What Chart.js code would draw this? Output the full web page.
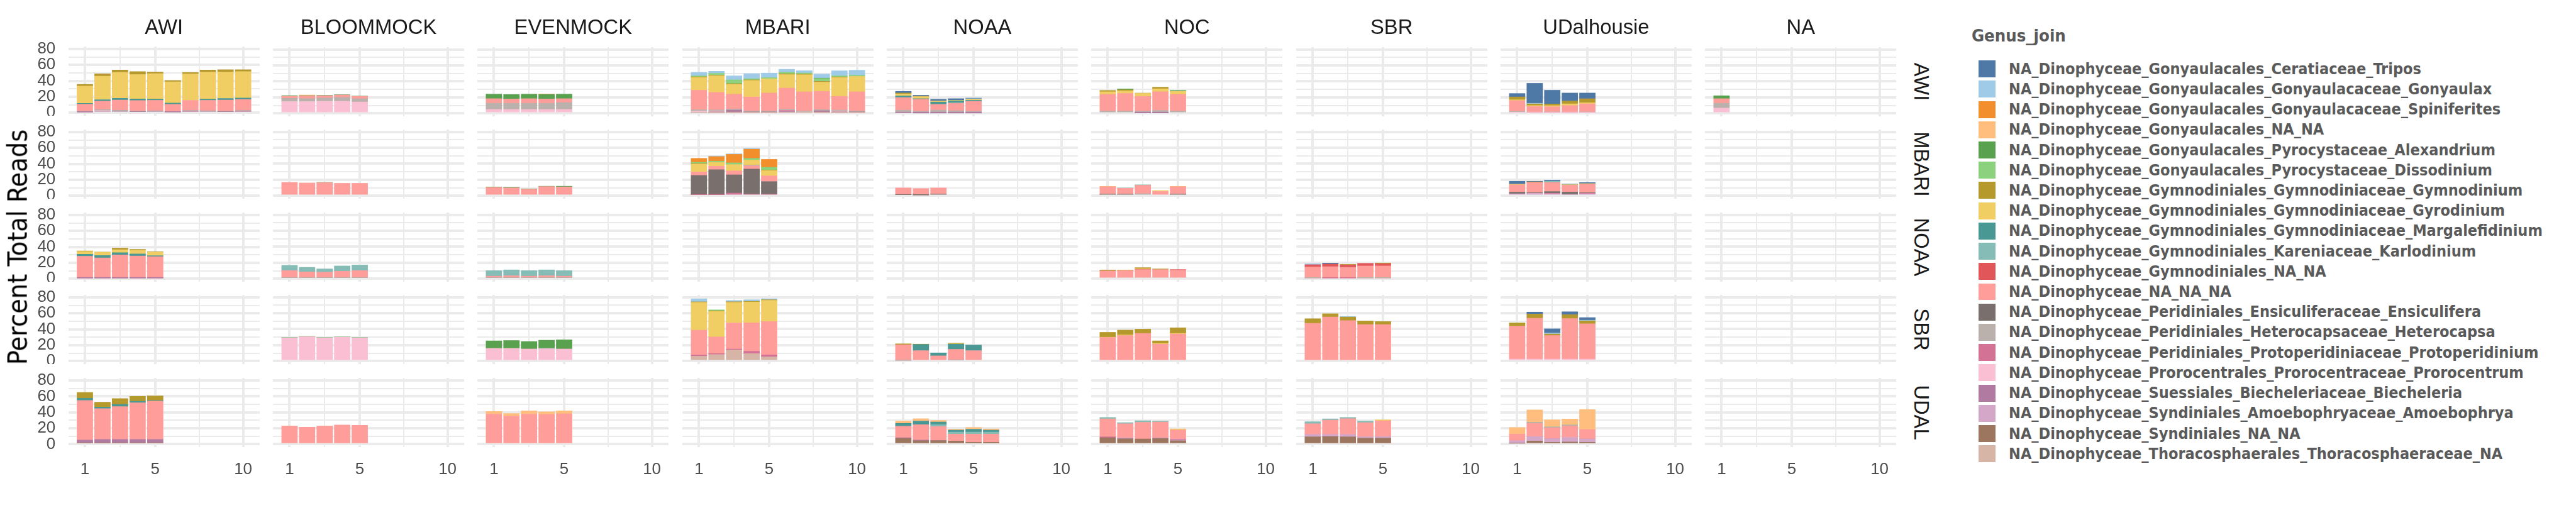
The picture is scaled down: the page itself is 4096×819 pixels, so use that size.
<!DOCTYPE html>
<html><head><meta charset="utf-8">
<script src="https://cdn.jsdelivr.net/npm/chart.js@4.4.1/dist/chart.umd.min.js"></script>
<style>
html,body{margin:0;padding:0;background:#fff;}
#root{position:relative;width:4096px;height:819px;overflow:hidden;font-family:"Liberation Sans",Arial,sans-serif;}
.abs{position:absolute;white-space:nowrap;}
</style></head><body><div id="root"></div>
<script>
// ---------------- data ----------------
const columns = ['AWI','BLOOMMOCK','EVENMOCK','MBARI','NOAA','NOC','SBR','UDalhousie','NA'];
const rows = ['AWI','MBARI','NOAA','SBR','UDAL'];
const genusKeys = ['Tri','Gon','Spi','GoNA','Ale','Dis','Gym','Gyr','Mar','Kar','GyNA','NNN','Ens','Het','Pro','Prc','Bie','Amo','SyNA','Tho'];
const genusNames = [
 'NA_Dinophyceae_Gonyaulacales_Ceratiaceae_Tripos',
 'NA_Dinophyceae_Gonyaulacales_Gonyaulacaceae_Gonyaulax',
 'NA_Dinophyceae_Gonyaulacales_Gonyaulacaceae_Spiniferites',
 'NA_Dinophyceae_Gonyaulacales_NA_NA',
 'NA_Dinophyceae_Gonyaulacales_Pyrocystaceae_Alexandrium',
 'NA_Dinophyceae_Gonyaulacales_Pyrocystaceae_Dissodinium',
 'NA_Dinophyceae_Gymnodiniales_Gymnodiniaceae_Gymnodinium',
 'NA_Dinophyceae_Gymnodiniales_Gymnodiniaceae_Gyrodinium',
 'NA_Dinophyceae_Gymnodiniales_Gymnodiniaceae_Margalefidinium',
 'NA_Dinophyceae_Gymnodiniales_Kareniaceae_Karlodinium',
 'NA_Dinophyceae_Gymnodiniales_NA_NA',
 'NA_Dinophyceae_NA_NA_NA',
 'NA_Dinophyceae_Peridiniales_Ensiculiferaceae_Ensiculifera',
 'NA_Dinophyceae_Peridiniales_Heterocapsaceae_Heterocapsa',
 'NA_Dinophyceae_Peridiniales_Protoperidiniaceae_Protoperidinium',
 'NA_Dinophyceae_Prorocentrales_Prorocentraceae_Prorocentrum',
 'NA_Dinophyceae_Suessiales_Biecheleriaceae_Biecheleria',
 'NA_Dinophyceae_Syndiniales_Amoebophryaceae_Amoebophrya',
 'NA_Dinophyceae_Syndiniales_NA_NA',
 'NA_Dinophyceae_Thoracosphaerales_Thoracosphaeraceae_NA'
];
const xTickLabels = [1,5,10];
const xMinorGrid = [3,7.5];
const yTickLabels = [0,20,40,60,80];
const yMinorGrid = [10,30,50,70];

// panels: p_<column>_<row>, values per bar (x = 1..n)
const p_AWI_AWI = {
 Gym:[2.1,2.9,2.9,3.6,2,1.6,2,2.5,2.9,2.5],
 Gyr:[21.9,29.7,32.8,30.6,32,26.6,33.2,34,33.2,33.2],
 Mar:[1,1.7,2.1,2.1,1.6,1.6,0,1.6,2,1.6],
 NNN:[8.6,10.5,12.8,13.1,13.1,9,12.7,13.1,13.9,13.9],
 Het:[0.7,1.4,1.2,1,0.8,0.8,0.8,0.8,0.8,0.8],
 Pro:[0.7,0,0,0,0,0,0.4,0,0,0.4],
 Prc:[0,1,0,0,0,0,0,0,0,0],
 Bie:[0.7,1.7,1.9,1.2,1.7,0.8,1.7,1.7,1.2,1.7]
};
const p_AWI_NOAA = {
 Gym:[0.4,0.4,2,1.2,0.8], Gyr:[3.7,4.1,3.7,4.5,4.1], Mar:[2.5,2.9,2.9,2.5,1.2],
 NNN:[26.6,24.6,28.3,27,26.2], Pro:[0.8,0.8,0.8,0.8,0.8], Bie:[0.8,0.8,0.8,0.8,0.8]
};
const p_AWI_UDAL = {
 Gym:[7.3,6.1,7.3,6.1,5.7], Mar:[2.8,2,2.8,2,0.8], NNN:[49.6,38.6,41.1,45.9,48],
 Bie:[3.3,4.1,4.1,4.1,4.1], SyNA:[2,2,2,2,2]
};
const p_BLOOMMOCK_AWI = {
 Ale:[0.8,0.4,0.4,0.4,0.4], GoNA:[0,0.8,0,0,0], NNN:[2.5,3.3,2.9,2.9,2.9],
 Het:[4.1,3.7,4.1,4.9,4.1], Prc:[14.8,14.8,15.2,15.2,14.3]
};
const p_BLOOMMOCK_MBARI = { Ale:[0,0,0.4,0,0], NNN:[16.8,16,16.4,15.6,15.6] };
const p_BLOOMMOCK_NOAA = { Kar:[6.6,5.7,4.1,6.6,7], NNN:[9,7.4,7,8.2,9], Het:[1.2,1.2,1.2,1.2,1.2] };
const p_BLOOMMOCK_SBR = { Ale:[0.4,0.4,0.4,0.4,0.4], Prc:[29.1,30.7,29.1,29.9,29.1] };
const p_BLOOMMOCK_UDAL = { NNN:[23,21.3,23,24.2,23.8] };
const p_EVENMOCK_AWI = {
 Spi:[0,0,0,0.4,0], Ale:[5.7,5.7,5.7,5.7,5.7], NNN:[5.7,5.3,5.7,5.3,4.9],
 Het:[7.8,7.8,7.8,7.8,8.6], Prc:[4.9,4.9,4.9,4.9,4.9]
};
const p_EVENMOCK_MBARI = { Ale:[0.4,0.8,0.4,0.4,0.8], NNN:[10.6,9.9,8.2,11.5,11.1] };
const p_EVENMOCK_NOAA = { Kar:[7,7.4,7,7.4,7], NNN:[2,2.5,2,2.5,2], Het:[1.2,1.2,1.2,1.2,1.2] };
const p_EVENMOCK_SBR = { Ale:[9.4,9.8,9.4,10.2,11.5], Kar:[0,0,0,0.4,0], Prc:[16,16,15.2,15.6,15.2] };
const p_EVENMOCK_UDAL = { GoNA:[3.3,3.3,4.1,3.3,3.7], NNN:[37.7,35.2,37.7,37.3,38.1] };
const p_MBARI_AWI = {
 Gon:[4.5,2.6,5,6.4,5.7,3.6,2.9,5,6.4,6.4],
 Ale:[0,0,0,0,0,0,0,0.5,0,0],
 Dis:[1.2,2.4,4.8,1.4,1.4,2.1,1.4,3.6,1.4,1.4],
 Gym:[0.8,0.7,1,0.7,0,1,0.7,1,0.7,0],
 Gyr:[16,20.8,12.2,20.8,17.9,16.9,21.5,11.5,23.6,19.3],
 NNN:[24.5,22,18.6,17.4,22.4,26.5,23.9,22.9,17.2,23.9],
 Het:[1.5,1.4,1.4,1.2,1.2,1.4,1.4,1.4,1.2,1.2],
 Pro:[0,0,0,0,0,0.7,0,0,0,0],
 Prc:[1.5,1,0,0,0,0.7,0.7,0,1,0],
 Bie:[0.5,1.2,3.3,1.2,1.2,1.4,0,2.6,1.2,1.2],
 Tho:[1,0.7,0.7,0.7,0.7,1,1,0.7,0.7,0.7]
};
const p_MBARI_MBARI = {
 Gon:[0,0.7,0.7,1,0], Spi:[5,5.7,10.7,11.5,10], Dis:[1.4,1.4,2.1,2.1,3.3], Gym:[0.7,0,0,0,0.7],
 Gyr:[10,5,7.9,6.4,6.7], Kar:[0,0,0,0.7,0], NNN:[4.3,4.3,5,4.3,7.2],
 Ens:[24.3,31.5,22.9,31.5,15.8], Pro:[1.2,1.2,3.3,1.9,1.9]
};
const p_MBARI_SBR = {
 Gon:[3.7,0,1.6,2,1.2], Dis:[0,1.2,0,0,0], Gym:[0.8,0.8,0.8,0.8,0.8], Gyr:[34.8,32,25.8,26.2,26.6],
 NNN:[31.1,20.9,32.8,35.7,41.8], Pro:[1.6,1.2,1.2,2.9,2.5], Tho:[6.1,8.2,13.9,9.4,5.3]
};
const p_NOAA_AWI = {
 Tri:[2.1,1.2,2.1,1.9,0.7], Gon:[0,0,0,0,0.7], Gym:[1.2,0.5,0,0,0], Gyr:[2.4,2.6,1.4,0.7,1.4],
 Mar:[2.1,0.7,2.9,2.4,1.4], Kar:[0,0,0,0.7,0], NNN:[15.8,15,7.2,9.3,12.2],
 Het:[3.3,2.4,3.8,3.1,2.4], Bie:[0.7,0.3,0.3,0.3,0.3]
};
const p_NOAA_MBARI = { NNN:[8.6,8.2,7.8], Ens:[1.2,0.8,2] };
const p_NOAA_SBR = {
 Gym:[1.2,0.4,0,0.8,0], Gyr:[0,0,0,0.4,0], Mar:[0,7.8,3.7,6.6,7],
 NNN:[19.7,13.1,6.6,13.5,13.1], Het:[0.8,0,0,1.2,0]
};
const p_NOAA_UDAL = {
 GoNA:[2.9,2.9,2,1.2,2,1.6], Mar:[3.7,4.5,3.3,2.5,3.7,2.5], Kar:[0,0,2.5,2.5,2.5,2.5],
 NNN:[14.3,19.3,17.2,8.6,10.2,10.2], Bie:[0.8,0.8,0.4,0,0,0], SyNA:[7.4,4.5,4.5,4.1,2.5,2.5]
};
const p_NOC_AWI = {
 Ale:[0,1.2,0,0,1.2], Gym:[1.6,1.2,0.4,2,0], Gyr:[3.3,3.3,3.7,3.7,3.7],
 NNN:[20.9,22.1,18.4,23.4,20.9], Het:[2.9,2.9,2.5,3.3,2.9], Bie:[0,0,0.4,0.4,0]
};
const p_NOC_MBARI = {
 Gyr:[0.4,0,0,1.2,0.4], Mar:[0,0,0.4,0,0], Kar:[0,0.4,0,0,0], NNN:[9.4,7.4,10.7,5.3,9.4],
 Ens:[0.8,0.8,0,0,0.8], Het:[1.2,1.2,2.5,0,1.2]
};
const p_NOC_NOAA = {
 GoNA:[0,0.4,0,0,0], Gym:[1.2,0.4,1.2,0.8,0], Gyr:[0,0,0.8,0,0], GyNA:[0,0,0.4,0,0.8],
 NNN:[9.8,10.2,11.5,11.5,10.7]
};
const p_NOC_SBR = { Gym:[6.1,6.1,5.3,3.3,7], Gyr:[0.4,0.8,0,0.8,0.8], NNN:[29.6,32,34.8,21.3,34] };
const p_NOC_UDAL = {
 Gyr:[0,0,0,0,1.2], Kar:[1.6,1.2,2,1.2,0], NNN:[22.5,17.6,20.9,19.7,11.5],
 Pro:[1.2,0,0,0,0.8], Amo:[0,1.2,0,0.8,1.2], SyNA:[8.2,7,6.6,7.4,4.5]
};
const p_SBR_NOAA = {
 Tri:[0,1.2,0,0,0], Gon:[1.2,0,0,0,0], Gym:[0,0,0.8,0,0.8], GyNA:[2.9,3.3,2.9,3.3,2.9],
 NNN:[13.9,14.3,13.5,15.2,15.2], Het:[0.8,0,0,0.8,0.8], Pro:[0,0.8,0.8,0,0]
};
const p_SBR_SBR = { Gon:[0,0,0.8,0,0], Gym:[5.7,4.1,4.5,4.5,3.7], NNN:[47.5,55.3,50.8,45.9,45.9] };
const p_SBR_UDAL = {
 Gyr:[0,0,0,0,1.2], Kar:[2.5,1.6,1.6,2,0], NNN:[13.5,18,19.7,17.6,19.7],
 Amo:[2.9,2.5,2.9,1.6,2], SyNA:[9.4,9.8,9.4,7.8,7.8]
};
const p_UDalhousie_AWI = {
 Tri:[4.3,25.1,17.2,10,7.2], Gon:[0,0.7,0,0,0], Gym:[3.6,2.1,2.1,3.6,5], Gyr:[1,1.2,1.4,2.1,1.4],
 NNN:[13.4,7.4,6.4,8.6,10], Het:[1.4,0.5,1.4,0.5,1.2], Prc:[1.2,0.7,0.5,0.7,0.7]
};
const p_UDalhousie_MBARI = {
 Tri:[3.6,0.7,1.4,0.7,1.4], Gym:[0,0.7,0,0,0], Gyr:[0.7,0,0,0.7,0.7], Kar:[0,0,1.4,0,0],
 NNN:[9.3,12.9,11.5,8.6,10.7], Ens:[2.1,0.7,2.1,2.9,0.7], Pro:[0,0,0.7,0,0.7], Amo:[2.4,3.1,2.4,1.7,2.4]
};
const p_UDalhousie_SBR = {
 Tri:[0,2.5,5.3,3.7,3.3], Gon:[0,0,1.2,0,0.8], Gym:[4.1,5.3,2,4.9,3.7],
 NNN:[41.4,51.2,29.5,50.8,44.3], Prc:[2.5,2.5,2.5,2.5,2.5]
};
const p_UDalhousie_UDAL = {
 GoNA:[8.2,15.6,9,7.4,25], Kar:[0,0.8,0.8,0.8,0], NNN:[8.2,16.8,13.9,14.8,11.9],
 Amo:[3.3,5.7,4.5,5.7,4.1], SyNA:[1.2,4.1,2.5,2.9,2.5]
};
const p_NA_AWI = { Ale:[3.7], NNN:[5.7], Het:[6.1], Prc:[6.6] };

const panelTable = {
 'AWI|AWI':p_AWI_AWI,'AWI|NOAA':p_AWI_NOAA,'AWI|UDAL':p_AWI_UDAL,
 'BLOOMMOCK|AWI':p_BLOOMMOCK_AWI,'BLOOMMOCK|MBARI':p_BLOOMMOCK_MBARI,'BLOOMMOCK|NOAA':p_BLOOMMOCK_NOAA,
 'BLOOMMOCK|SBR':p_BLOOMMOCK_SBR,'BLOOMMOCK|UDAL':p_BLOOMMOCK_UDAL,
 'EVENMOCK|AWI':p_EVENMOCK_AWI,'EVENMOCK|MBARI':p_EVENMOCK_MBARI,'EVENMOCK|NOAA':p_EVENMOCK_NOAA,
 'EVENMOCK|SBR':p_EVENMOCK_SBR,'EVENMOCK|UDAL':p_EVENMOCK_UDAL,
 'MBARI|AWI':p_MBARI_AWI,'MBARI|MBARI':p_MBARI_MBARI,'MBARI|SBR':p_MBARI_SBR,
 'NOAA|AWI':p_NOAA_AWI,'NOAA|MBARI':p_NOAA_MBARI,'NOAA|SBR':p_NOAA_SBR,'NOAA|UDAL':p_NOAA_UDAL,
 'NOC|AWI':p_NOC_AWI,'NOC|MBARI':p_NOC_MBARI,'NOC|NOAA':p_NOC_NOAA,'NOC|SBR':p_NOC_SBR,'NOC|UDAL':p_NOC_UDAL,
 'SBR|NOAA':p_SBR_NOAA,'SBR|SBR':p_SBR_SBR,'SBR|UDAL':p_SBR_UDAL,
 'UDalhousie|AWI':p_UDalhousie_AWI,'UDalhousie|MBARI':p_UDalhousie_MBARI,
 'UDalhousie|SBR':p_UDalhousie_SBR,'UDalhousie|UDAL':p_UDalhousie_UDAL,
 'NA|AWI':p_NA_AWI
};

// ---------------- styles / layout (reference px, scaled by S) ----------------
const genusColors = ['#4E79A7','#A0CBE8','#F28E2B','#FFBE7D','#59A14F','#8CD17D','#B6992D','#F1CE63',
 '#499894','#86BCB6','#E15759','#FF9D9A','#79706E','#BAB0AC','#D37295','#FABFD2','#B07AA1','#D4A6C8','#9D7660','#D7B5A6'];
const S = 0.91;
const PX0 = 119.3, PDX = 357.5, PW = 334.3;
const PY0 = 82, PDY = 144.6, PH = 121;
const X_MIN = 0.055, X_MAX = 10.945, Y_MIN = -3.8, Y_MAX = 83;
const GRID = '#EBEBEB', MAJ = 4.4*S, MIN = 2.2*S;
const TICK_FONT = 28.5*S, STRIP_FONT = 36*S;
const BOTTOM_AXIS = 70, TOP_EXTRA = 20;
const root = document.getElementById('root');

function addText(txt, css){ const d=document.createElement('div'); d.className='abs'; d.textContent=txt; d.style.cssText+=css; root.appendChild(d); return d; }
function noPad(a){ a.paddingTop=0; a.paddingBottom=0; a.paddingLeft=0; a.paddingRight=0; }

columns.forEach((col,c)=>{
  rows.forEach((row,r)=>{
    const left = PX0 + PDX*c, top = PY0 + PDY*r;
    const padL = c===0 ? left : 0;
    const padT = c===0 ? TOP_EXTRA : 0;
    const padB = r===rows.length-1 ? BOTTOM_AXIS : 0;
    const wrap = document.createElement('div');
    wrap.className='abs';
    wrap.style.left = ((left-padL)*S)+'px';
    wrap.style.top = ((top-padT)*S)+'px';
    const W = Math.round((PW+padL)*S), H = Math.round((PH+padB+padT)*S);
    const cv = document.createElement('canvas');
    cv.width = W; cv.height = H; cv.style.width=W+'px'; cv.style.height=H+'px';
    wrap.appendChild(cv); root.appendChild(wrap);
    const pd = panelTable[col+'|'+row] || {};
    const barPx = 0.9 * PW*S / (X_MAX - X_MIN);
    const datasets = [];
    for (let g = genusKeys.length-1; g >= 0; g--) {
      const vals = pd[genusKeys[g]];
      if (!vals) continue;
      const pts = vals.map((v,i)=>({x:i+1,y:v})).filter(p=>p.y>0);
      if (!pts.length) continue;
      datasets.push({label:genusNames[g], data:pts, backgroundColor:genusColors[g], borderWidth:0,
        barThickness:barPx, inflateAmount:0.3});
    }
    new Chart(cv, {
      type:'bar',
      data:{datasets},
      options:{
        responsive:false, animation:false, devicePixelRatio:1,
        layout:{padding:{top:padT*S,left:0,right:0,bottom:0}},
        plugins:{legend:{display:false}, tooltip:{enabled:false}},
        scales:{
          x:{type:'linear', min:X_MIN, max:X_MAX, stacked:true, offset:false, position:'bottom',
            afterBuildTicks:a=>{a.ticks = xTickLabels.concat(xMinorGrid).sort((p,q)=>p-q).map(v=>({value:v}));},
            afterFit:a=>{a.height = padB*S; noPad(a);},
            grid:{offset:false, color:GRID, drawTicks:false,
              lineWidth:ctx=> (ctx.tick && xTickLabels.includes(ctx.tick.value)) ? MAJ : MIN},
            border:{display:false},
            ticks:{display:padB>0, autoSkip:false, maxRotation:0, padding:21.5*S, color:'#4D4D4D',
              font:{family:'"Liberation Sans", Arial, sans-serif', size:TICK_FONT},
              callback:v=> xTickLabels.includes(v) ? String(v) : ''}
          },
          y:{type:'linear', min:Y_MIN, max:Y_MAX, stacked:true, position:'left',
            afterBuildTicks:a=>{a.ticks = yTickLabels.concat(yMinorGrid).sort((p,q)=>p-q).map(v=>({value:v}));},
            afterFit:a=>{a.width = padL*S; noPad(a);},
            grid:{color:GRID, drawTicks:false,
              lineWidth:ctx=> (ctx.tick && yTickLabels.includes(ctx.tick.value)) ? MAJ : MIN},
            border:{display:false},
            ticks:{display:padL>0, autoSkip:false, padding:22.3*S, color:'#4D4D4D',
              font:{family:'"Liberation Sans", Arial, sans-serif', size:TICK_FONT},
              callback:v=> yTickLabels.includes(v) ? String(v) : ''}
          }
        }
      }
    });
  });
});

// strip labels (top)
columns.forEach((col,c)=>{
  const cx = PX0 + PDX*c + PW/2;
  addText(col, `left:${cx*S}px;top:${47*S}px;transform:translate(-50%,-50%);font-size:${STRIP_FONT}px;color:#1A1A1A;line-height:1;`);
});
// strip labels (right)
rows.forEach((row,r)=>{
  const cy = PY0 + PDY*r + PH/2;
  addText(row, `left:${3357*S}px;top:${cy*S}px;transform:translate(-50%,-50%) rotate(90deg);font-size:${STRIP_FONT}px;color:#1A1A1A;line-height:1;`);
});
// y axis title
addText('Percent Total Reads', `left:${31*S}px;top:${432*S}px;transform:translate(-50%,-50%) rotate(-90deg);font-family:"Liberation Sans Narrow","DejaVu Sans Condensed",sans-serif;font-size:${47*S}px;color:#000;line-height:1;`);

// legend
const LFONT = '"Liberation Sans Narrow","DejaVu Sans Condensed",sans-serif';
addText('Genus_join', `left:${3445*S}px;top:${63*S}px;transform:translateY(-50%);font-family:${LFONT};font-weight:bold;font-size:${30*S}px;color:#5A5A5A;line-height:1;`);
genusNames.forEach((name,i)=>{
  const cy = 120.5 + 35.4*i;
  const key = document.createElement('div');
  key.className='abs';
  key.style.cssText += `left:${3457*S}px;top:${(cy-14.8)*S}px;width:${29.6*S}px;height:${29.6*S}px;background:${genusColors[i]};`;
  root.appendChild(key);
  addText(name, `left:${3510*S}px;top:${cy*S}px;transform:translateY(-50%);font-family:${LFONT};font-weight:bold;font-size:${27.5*S}px;color:#5A5A5A;line-height:1;`);
});
</script>
</body></html>
